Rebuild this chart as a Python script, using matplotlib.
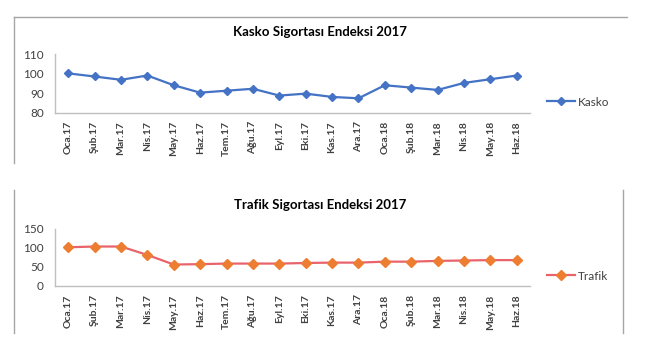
import matplotlib
matplotlib.use("Agg")
import matplotlib.pyplot as plt
from matplotlib.lines import Line2D

plt.rcParams['font.family'] = ['Lato', 'DejaVu Sans']

# Data
months = ['Oca.17', 'Şub.17', 'Mar.17', 'Nis.17', 'May.17', 'Haz.17',
          'Tem.17', 'Ağu.17', 'Eyl.17', 'Eki.17', 'Kas.17', 'Ara.17',
          'Oca.18', 'Şub.18', 'Mar.18', 'Nis.18', 'May.18', 'Haz.18']
kasko = [100.2, 98.6, 96.9, 99.1, 94.1, 90.3, 91.3, 92.3, 88.8, 89.8,
         88.1, 87.4, 94.1, 92.9, 91.7, 95.3, 97.2, 99.1]
trafik = [101, 103, 103, 81, 56, 57, 58.5, 58.5, 58.5, 60, 61, 61,
          63.5, 63.5, 65.5, 66.5, 67.5, 67.5]

W, H = 650, 360
fig = plt.figure(figsize=(6.5, 3.6), dpi=100)


def fx(px):
    return px / W


def fy(py):
    return 1 - py / H


# chart frames (partial borders as in the screenshot)
frame_col = '#a6a6a6'
fig.add_artist(Line2D([fx(14), fx(627)], [fy(17), fy(17)], color=frame_col, lw=1))
fig.add_artist(Line2D([fx(14), fx(14)], [fy(17), fy(163)], color=frame_col, lw=1))
fig.add_artist(Line2D([fx(14), fx(14)], [fy(190), fy(333)], color=frame_col, lw=1))
fig.add_artist(Line2D([fx(623), fx(623)], [fy(190), fy(333)], color=frame_col, lw=1))

panels = [
    dict(values=kasko, label='Kasko', title='Kasko Sigortası Endeksi 2017',
         line='#4472c4', marker='#4472c4', top=54.3, bottom=112.7,
         ylim=(80, 110), yticks=[80, 90, 100, 110], ms=3.8, title_y=32, leg_y=102),
    dict(values=trafik, label='Trafik', title='Trafik Sigortası Endeksi 2017',
         line='#e8646a', marker='#ed7d31', top=228.5, bottom=286,
         ylim=(0, 150), yticks=[0, 50, 100, 150], ms=4.8, title_y=205, leg_y=276),
]

x = list(range(len(months)))
for p in panels:
    ax = fig.add_axes([fx(55), fy(p['bottom']), fx(530) - fx(55),
                       fy(p['top']) - fy(p['bottom'])])
    ln, = ax.plot(x, p['values'], color=p['line'], lw=1.6, marker='D',
                  markersize=p['ms'], markerfacecolor=p['marker'],
                  markeredgecolor=p['marker'], label=p['label'])
    ax.set_xlim(-0.5, len(months) - 0.5)
    ax.set_ylim(*p['ylim'])
    ax.set_yticks(p['yticks'])
    ax.set_xticks(x)
    ax.set_xticklabels(months, rotation=90, fontsize=7.5, fontweight='bold',
                       color='#404040')
    ax.tick_params(axis='y', labelsize=8.5, labelcolor='#404040', length=0, pad=8)
    ax.tick_params(axis='x', length=0, pad=6)
    for s in ['top', 'right']:
        ax.spines[s].set_visible(False)
    for s in ['left', 'bottom']:
        ax.spines[s].set_color('#bfbfbf')
        ax.spines[s].set_linewidth(1)

    fig.text(fx(320), fy(p['title_y']), p['title'], ha='center', va='center',
             fontsize=9.5, fontweight='bold', color='#000000')
    fig.legend(handles=[ln], loc='center left',
               bbox_to_anchor=(fx(547), fy(p['leg_y'])), frameon=False,
               fontsize=8.5, handlelength=2.4, handletextpad=0.2,
               borderpad=0, borderaxespad=0, labelcolor='#404040')

fig.savefig('out.png', dpi=100, facecolor='white')
